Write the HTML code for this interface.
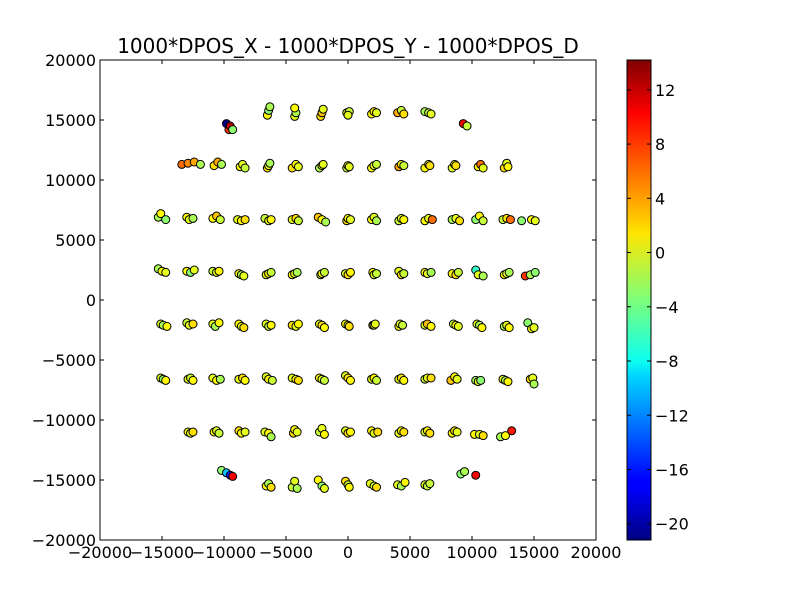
<!DOCTYPE html>
<html><head><meta charset="utf-8"><style>
body{margin:0;background:#fff}
svg text{font-family:"DejaVu Sans","Liberation Sans",sans-serif;fill:#000}
</style></head><body>
<svg id="chart" width="800" height="600" viewBox="0 0 800 600">
<rect width="800" height="600" fill="#fff"/>
<text x="348" y="53" font-size="20" text-anchor="middle">1000*DPOS_X - 1000*DPOS_Y - 1000*DPOS_D</text>
<g id="points"></g>
<g id="axes"></g>
<defs><linearGradient id="jet" x1="0" y1="1" x2="0" y2="0">
<stop offset="0" stop-color="#00007f"/><stop offset="0.11" stop-color="#0000ff"/><stop offset="0.125" stop-color="#0000ff"/>
<stop offset="0.34" stop-color="#00d4ff"/><stop offset="0.375" stop-color="#0dffef"/><stop offset="0.5" stop-color="#7dff7a"/>
<stop offset="0.64" stop-color="#ffe600"/><stop offset="0.66" stop-color="#ffd000"/><stop offset="0.89" stop-color="#ff0000"/><stop offset="1" stop-color="#7f0000"/>
</linearGradient></defs>
<rect x="627" y="60" width="24" height="480" fill="url(#jet)" stroke="#000"/>
<g id="cbticks"></g>
</svg>
<script>
const xTicks=[-20000,-15000,-10000,-5000,0,5000,10000,15000,20000];
const yTicks=[-20000,-15000,-10000,-5000,0,5000,10000,15000,20000];
const cTicks=[-20,-16,-12,-8,-4,0,4,8,12];
const cMin=-21.2,cMax=14.2;
const xs=[
-9800,-9600,-9500,-9300,-6500,-6400,-6300,-4300,-4200,-4300,-2200,-2100,-2000,-100,100,0,1900,2100,2300,4000,4300,4500,6200,6500,6700,9300,9600,
-13400,-12900,-12400,-11900,-10800,-10500,-10200,-8700,-8500,-8300,-6500,-6400,-6300,-4500,-4200,-4000,-2300,-2100,-2000,-100,0,100,1900,2100,2300,4100,4300,4500,6200,6500,6600,8400,8600,8700,10500,10700,10900,12600,12800,12900,
-15300,-15100,-14700,-13000,-12800,-12500,-10900,-10600,-10300,-8900,-8600,-8300,-6700,-6400,-6200,-4500,-4200,-4000,-2400,-2100,-1800,-100,0,200,1900,2100,2300,4100,4300,4500,6200,6500,6800,8400,8700,9000,10300,10600,10900,12500,12800,13100,14000,14800,15100,
-15300,-15000,-14700,-13000,-12700,-12400,-10900,-10600,-10400,-8800,-8600,-8400,-6600,-6400,-6200,-4500,-4300,-4100,-2200,-2100,-1900,-200,0,200,2000,2100,2300,4100,4300,4500,6200,6400,6700,8400,8700,8900,10300,10500,10900,12600,12800,13000,14300,14700,15100,
-15100,-14900,-14600,-13000,-12800,-12500,-10900,-10700,-10400,-8800,-8600,-8400,-6600,-6400,-6200,-4500,-4200,-4000,-2300,-2100,-1900,-200,0,100,2000,2100,2200,4100,4200,4400,6200,6400,6700,8500,8700,8900,10400,10600,10800,12600,12800,13000,14500,14800,15000,
-15100,-14900,-14700,-12900,-12700,-12500,-10900,-10600,-10300,-8800,-8500,-8300,-6600,-6400,-6100,-4500,-4200,-4000,-2300,-2100,-1900,-200,0,200,1900,2100,2300,4100,4300,4500,6200,6400,6700,8300,8600,8800,10300,10500,10700,12500,12700,12900,14700,14900,15000,
-12900,-12700,-12500,-10800,-10600,-10400,-8800,-8600,-8300,-6700,-6400,-6200,-4400,-4300,-4100,-2300,-2100,-1900,-200,0,200,1900,2100,2400,4100,4300,4500,6200,6400,6600,8400,8600,8800,10200,10600,10900,12300,12700,13200,
-10200,-9800,-9500,-9300,-6600,-6400,-6200,-4500,-4300,-4100,-2400,-2100,-1900,-200,0,100,1800,2100,2300,4000,4300,4600,6200,6400,6600,9100,9400,10300];
const ys=[
14700,14200,14500,14200,15400,15800,16100,15300,15600,16000,15300,15600,15900,15600,15700,15400,15500,15700,15600,15600,15800,15500,15700,15600,15500,14700,14500,
11300,11400,11500,11300,11200,11500,11300,11100,11300,11000,11000,11200,11400,11000,11300,11100,11000,11200,11300,11000,11200,11100,11000,11200,11300,11100,11300,11200,11000,11300,11200,11000,11300,11200,11100,11300,11000,11000,11400,11100,
6900,7200,6700,6900,6700,6800,6800,7000,6700,6700,6600,6700,6800,6600,6700,6700,6800,6600,6900,6700,6500,6600,6800,6700,6700,6900,6600,6600,6800,6700,6600,6800,6700,6700,6800,6600,6700,7000,6600,6700,6800,6700,6600,6700,6600,
2600,2400,2300,2400,2300,2500,2400,2300,2400,2200,2100,2000,2100,2200,2300,2100,2200,2300,2100,2200,2300,2200,2100,2300,2300,2100,2200,2400,2100,2200,2300,2200,2300,2200,2100,2300,2500,2100,2000,2100,2200,2300,2000,2100,2300,
-2000,-2100,-2200,-1900,-2100,-2000,-2000,-2200,-1900,-2000,-2200,-2300,-2000,-2200,-2100,-2100,-2200,-2000,-2000,-2100,-2300,-2000,-2100,-2200,-2100,-2100,-2000,-2200,-2000,-2100,-2100,-2000,-2200,-2000,-2100,-2200,-2000,-2100,-2300,-2200,-2100,-2300,-1900,-2400,-2300,
-6500,-6600,-6700,-6600,-6500,-6700,-6500,-6700,-6600,-6600,-6500,-6700,-6400,-6600,-6700,-6500,-6600,-6700,-6500,-6600,-6700,-6300,-6500,-6700,-6600,-6500,-6700,-6600,-6500,-6700,-6600,-6500,-6500,-6700,-6400,-6600,-6700,-6800,-6700,-6600,-6700,-6800,-6600,-6500,-7000,
-11000,-11100,-11000,-11000,-10900,-11100,-10900,-11100,-11000,-11000,-11100,-11400,-11100,-10800,-11000,-11000,-10700,-11200,-10900,-11100,-11000,-10900,-11100,-11000,-11100,-10900,-11000,-11000,-10900,-11100,-11100,-10900,-11000,-11200,-11200,-11300,-11400,-11300,-10900,
-14200,-14400,-14600,-14700,-15500,-15300,-15600,-15600,-15100,-15700,-15000,-15500,-15700,-15100,-15400,-15600,-15300,-15500,-15600,-15400,-15500,-15200,-15400,-15500,-15300,-14500,-14300,-14600];
const cs=[
-21,8,12,-3,1,-3,-2,0,-2,1,2,3,0,1,-1,0,1,2,0,4,-1,2,-2,-1,0,10,-1,
6,5,4,-2,2,4,-2,1,0,-1,2,0,-2,2,1,0,-2,1,0,-1,1,0,1,0,-1,4,1,-1,1,0,2,0,1,2,1,6,0,2,0,1,
-2,1,-3,1,0,-2,1,3,-1,0,1,2,-1,0,1,0,2,-1,3,1,-2,2,1,0,1,0,-2,-1,0,1,1,0,6,-2,0,2,-3,1,-1,-1,2,6,-3,1,0,
-2,1,0,1,-3,0,-1,0,1,1,-2,0,0,1,-1,1,0,-2,0,1,-1,0,2,1,1,0,-1,0,2,-1,1,0,-2,1,2,-1,-6,0,-2,1,0,-2,8,-2,-3,
0,-2,1,-1,0,2,0,-2,1,1,0,2,0,-1,1,2,0,1,0,2,1,1,0,2,0,1,0,1,0,-1,0,3,1,-1,1,0,0,-2,1,-2,0,1,-3,1,0,
0,-3,1,0,-1,1,0,1,-2,0,2,1,0,1,-1,0,1,2,1,0,-1,0,2,1,0,1,-1,0,2,1,-1,0,2,3,1,0,-2,0,-3,0,-2,1,2,0,-2,
1,0,2,1,0,-1,2,1,0,0,1,-2,2,1,0,-1,0,1,0,2,1,1,0,2,0,1,2,0,1,2,1,2,0,1,0,2,-2,1,9,
-3,-10,-16,10,1,-2,2,-1,0,-2,1,-3,0,2,-1,1,0,-1,2,0,-2,1,0,-1,-1,-3,-2,10];
const X0=100,X1=596,Y0=60,Y1=540;
const sx=v=>X0+(v+20000)/40000*(X1-X0);
const sy=v=>Y1-(v+20000)/40000*(Y1-Y0);
const sc=v=>540-(v-cMin)/(cMax-cMin)*480;
function jet(v){let t=(v-cMin)/(cMax-cMin);t=Math.max(0,Math.min(1,t));
const f=x=>Math.max(0,Math.min(1,x));
const r=f(Math.min(4*t-1.5,-4*t+4.5)),g=f(Math.min(4*t-0.5,-4*t+3.5)),b=f(Math.min(4*t+0.5,-4*t+2.5));
return `rgb(${Math.round(r*255)},${Math.round(g*255)},${Math.round(b*255)})`;}
const NS="http://www.w3.org/2000/svg";
function mk(tag,attrs,parent){const e=document.createElementNS(NS,tag);for(const k in attrs)e.setAttribute(k,attrs[k]);parent.appendChild(e);return e;}
const P=document.getElementById('points');
for(let i=0;i<xs.length;i++){
const c=mk('circle',{cx:sx(xs[i]),cy:sy(ys[i]),r:4,fill:jet(cs[i]),stroke:'#000','stroke-width':1},P);


}
const A=document.getElementById('axes');
const fr=mk('rect',{x:X0,y:Y0,width:X1-X0,height:Y1-Y0,fill:'none',stroke:'#000'},A);


const fmt=v=>v<0?'\u2212'+(-v):''+v;
xTicks.forEach(v=>{const x=sx(v);
mk('line',{x1:x,x2:x,y1:Y1,y2:Y1-4,stroke:'#000'},A);mk('line',{x1:x,x2:x,y1:Y0,y2:Y0+4,stroke:'#000'},A);
const t=mk('text',{x:x,y:Y1+18,'font-size':16,'text-anchor':'middle'},A);t.textContent=fmt(v);

});
yTicks.forEach(v=>{const y=sy(v);
mk('line',{x1:X0,x2:X0+4,y1:y,y2:y,stroke:'#000'},A);mk('line',{x1:X1,x2:X1-4,y1:y,y2:y,stroke:'#000'},A);
const t=mk('text',{x:X0-4,y:y+6,'font-size':16,'text-anchor':'end'},A);t.textContent=fmt(v);

});
const C=document.getElementById('cbticks');
cTicks.forEach(v=>{const y=sc(v);
mk('line',{x1:627,x2:631,y1:y,y2:y,stroke:'#000'},C);mk('line',{x1:651,x2:647,y1:y,y2:y,stroke:'#000'},C);
const t=mk('text',{x:655,y:y+6,'font-size':16},C);t.textContent=fmt(v);

});
</script>
</body></html>
